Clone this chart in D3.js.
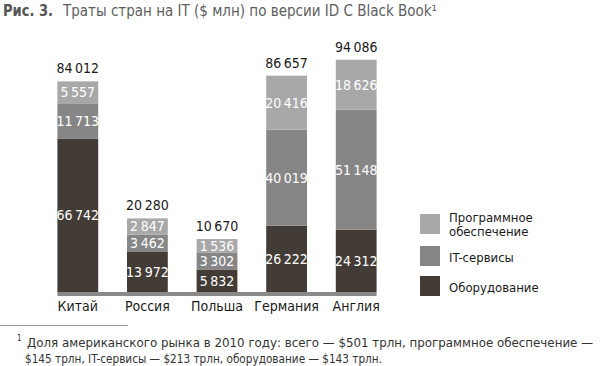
<!DOCTYPE html>
<html><head><meta charset="utf-8">
<script src="https://cdn.jsdelivr.net/npm/d3@7"></script>
<style>
html,body{margin:0;padding:0;background:#fff;}
text{font-family:"Liberation Sans Narrow","DejaVu Sans Condensed","Roboto Condensed",Roboto,sans-serif;}
</style></head>
<body><svg id="c" width="600" height="366"></svg>
<script>
const categories = ["Китай","Россия","Польша","Германия","Англия"];
const seriesNames = ["Оборудование","IT-сервисы","Программное обеспечение"];
const hardware = [66742, 13972, 5832, 26222, 24312];
const services = [11713, 3462, 3302, 40019, 51148];
const software = [5557, 2847, 1536, 20416, 18626];
const totals = [84012, 20280, 10670, 86657, 94086];
const legendLines = [["Программное","обеспечение"],["IT-сервисы"],["Оборудование"]];
const titleBold = "Рис. 3.";
const titleText = "Траты стран на IT ($ млн) по версии ID C Black Book¹";
const footLines = ["Доля американского рынка в 2010 году: всего — $501 трлн, программное обеспечение —",
                   "$145 трлн, IT-сервисы — $213 трлн, оборудование — $143 трлн."];

const colors = {"Оборудование":"#433c36","IT-сервисы":"#878686","Программное обеспечение":"#a9a8a8"};
const fmt = v => d3.format(",")(v).replace(/,/g, "\u2009");

const svg = d3.select("#c");
const baseY = 292;
const x = d3.scaleBand().domain(categories).range([43, 391]).paddingInner(0.414).paddingOuter(0.207);
// segment height scale (the original is not drawn strictly to proportion)
const h = d3.scaleLinear().domain([0, 100000]).range([10, 225]);

const series = [hardware, services, software];
categories.forEach((c, i) => {
  let y = baseY;
  series.forEach((arr, s) => {
    const hh = h(arr[i]);
    const y0 = y - hh;
    svg.append("rect").attr("x", x(c)).attr("y", y0).attr("width", x.bandwidth()).attr("height", hh)
      .attr("fill", colors[seriesNames[s]]);
    svg.append("text").attr("x", x(c) + x.bandwidth()/2).attr("y", y0 + hh/2 + 5)
      .attr("text-anchor","middle").attr("fill","#fff").attr("font-size",14).text(fmt(arr[i]));
    y = y0;
  });
  svg.append("text").attr("x", x(c) + x.bandwidth()/2).attr("y", y - 8)
    .attr("text-anchor","middle").attr("fill","#1a1a1a").attr("font-size",14).text(fmt(totals[i]));
  svg.append("text").attr("x", x(c) + x.bandwidth()/2).attr("y", 311)
    .attr("text-anchor","middle").attr("fill","#1a1a1a").attr("font-size",14).text(c);
});
// axis line
svg.append("line").attr("x1", x(categories[0])).attr("x2", x(categories[categories.length-1]) + x.bandwidth())
  .attr("y1", baseY + 2).attr("y2", baseY + 2).attr("stroke","#8a8a8a").attr("stroke-width",4);

// legend
const legOrder = ["Программное обеспечение","IT-сервисы","Оборудование"];
const legY = [214, 246, 276];
legOrder.forEach((n, k) => {
  svg.append("rect").attr("x",420).attr("y",legY[k]).attr("width",20).attr("height",20).attr("fill",colors[n]);
  const lines = legendLines[k];
  const t = svg.append("text").attr("x",449).attr("fill","#1a1a1a").attr("font-size",13);
  if (lines.length === 2) {
    t.attr("y", legY[k] + 8);
    t.append("tspan").attr("x",449).text(lines[0]);
    t.append("tspan").attr("x",449).attr("dy",14).text(lines[1]);
  } else {
    t.attr("y", legY[k] + 16).text(lines[0]);
  }
});

// title
svg.append("text").attr("x",3).attr("y",16).attr("font-size",16).attr("font-weight","bold")
  .attr("fill","#555").attr("textLength",50).attr("lengthAdjust","spacingAndGlyphs").text(titleBold);
svg.append("text").attr("x",63).attr("y",16).attr("font-size",16).attr("fill","#5e5e5e")
  .attr("textLength",374).attr("lengthAdjust","spacingAndGlyphs").text(titleText);

// footnote
svg.append("line").attr("x1",0).attr("x2",128).attr("y1",325.5).attr("y2",325.5).attr("stroke","#9a9a9a").attr("stroke-width",1);
const f1 = svg.append("text").attr("x",17).attr("y",347).attr("font-size",12.5).attr("fill","#333");
f1.append("tspan").attr("font-size",8).attr("dy",-6).text("1");
f1.append("tspan").attr("x",27).attr("dy",6).attr("textLength",566).attr("lengthAdjust","spacingAndGlyphs").text(footLines[0]);
svg.append("text").attr("x",25).attr("y",363).attr("font-size",12.5).attr("fill","#333")
  .attr("textLength",357).attr("lengthAdjust","spacingAndGlyphs").text(footLines[1]);
</script></body></html>
